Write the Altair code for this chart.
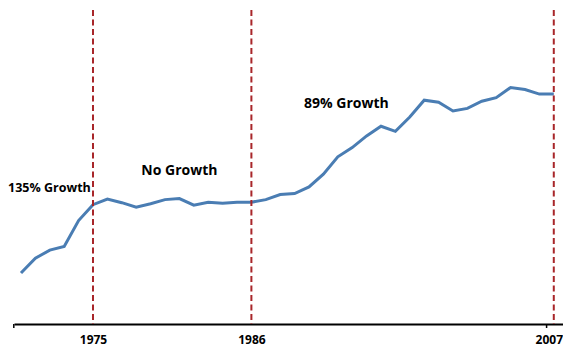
import altair as alt
import pandas as pd

years = list(range(1970, 2008))
values = [100, 129, 145, 152, 203, 234, 245, 238, 229, 236,
          244, 246, 233, 239, 237, 239, 239, 244, 254, 256,
          269, 294, 328, 346, 369, 388, 378, 406, 439, 435,
          418, 423, 437, 444, 464, 460, 451, 451]

marker_years = [1975, 1986, 2007]
tick_years = [1969.5, 2006.5]

ann_text = ["135% Growth", "No Growth", "89% Growth"]
ann_x = [1969.1, 1981.0, 1992.6]
ann_y = [267, 300, 431]
ann_align = ["left", "center", "center"]

df = pd.DataFrame({"year": years, "value": values})
mk = pd.DataFrame({"year": marker_years})
tk = pd.DataFrame({"year": tick_years})
ann = pd.DataFrame({"label": ann_text, "year": ann_x, "value": ann_y, "align": ann_align})

W, H = 549, 314
xscale = alt.Scale(domain=[1969.514, 2007.64], nice=False, zero=False)
yscale = alt.Scale(domain=[0, 616], nice=False)

line = alt.Chart(df).mark_line(color="#4a7db3", strokeWidth=3).encode(
    x=alt.X("year:Q", scale=xscale,
            axis=alt.Axis(values=marker_years, format="d", title=None, ticks=False,
                          grid=False, domainColor="black", domainWidth=2,
                          labelFont="Open Sans", labelFontWeight="bold", labelFontSize=12,
                          labelColor="black", labelPadding=10,
                          labelOffset=alt.expr("datum.value == 2007 ? -5 : 0"))),
    y=alt.Y("value:Q", scale=yscale, axis=None),
)

rules = alt.Chart(mk).mark_rule(color="#a8262a", strokeWidth=2, strokeDash=[6, 3.5]).encode(
    x=alt.X("year:Q", scale=xscale)
)

ticks = alt.Chart(tk).mark_rule(color="black", strokeWidth=1.5).encode(
    x=alt.X("year:Q", scale=xscale),
    y=alt.value(H),
    y2=alt.value(H + 4),
)

texts_left = alt.Chart(ann[ann["align"] == "left"]).mark_text(
    font="Open Sans", fontWeight="bold", fontSize=12.5, color="black", align="left", baseline="middle"
).encode(x=alt.X("year:Q", scale=xscale), y=alt.Y("value:Q", scale=yscale), text="label:N")

texts_mid = alt.Chart(ann[ann["align"] == "center"]).mark_text(
    font="Open Sans", fontWeight="bold", fontSize=14, color="black", align="center", baseline="middle"
).encode(x=alt.X("year:Q", scale=xscale), y=alt.Y("value:Q", scale=yscale), text="label:N")

chart = alt.layer(line, rules, ticks, texts_left, texts_mid).properties(
    width=W, height=H,
    autosize=alt.AutoSizeParams(type="none"),
    padding={"left": 6, "top": 2, "right": 0, "bottom": 30},
).configure_view(stroke=None)

chart.save("out.html", embed_options={"renderer": "svg", "actions": False})
